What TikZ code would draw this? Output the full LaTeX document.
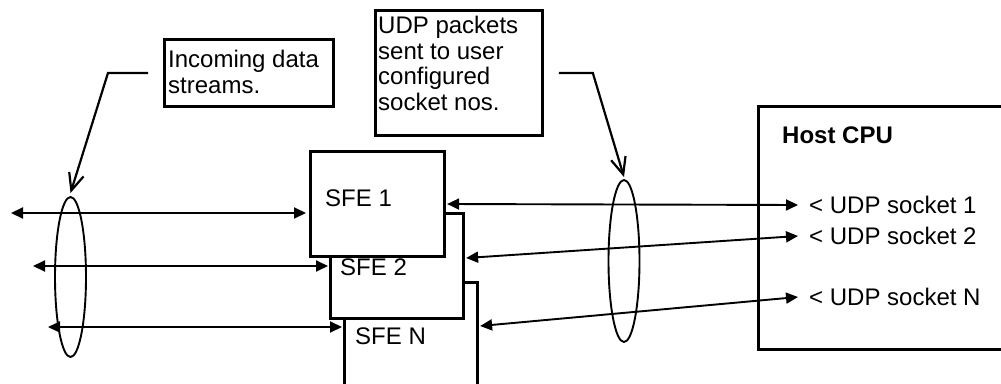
\documentclass[tikz,border=0pt]{standalone}
\usepackage{fontspec}
\setmainfont{Liberation Sans}
\usetikzlibrary{arrows.meta,shapes.geometric}
\newcommand{\figfont}{\fontsize{24}{25.5}\selectfont}

\begin{document}
\begin{tikzpicture}[x=1pt,y=-1pt,
  >={Triangle[length=12pt,width=11pt]},
  every node/.style={font=\figfont,inner sep=0pt},
  sfebox/.style={draw,line width=2.6pt,fill=white,anchor=north west,minimum width=134pt,minimum height=105pt},
  notebox/.style={draw,line width=2.8pt,anchor=north west},
  ring/.style={draw,ellipse,line width=1.9pt,minimum width=31pt,minimum height=160pt},
  link/.style={line width=1.9pt,<->},
  leader/.style={line width=2.2pt,-{Straight Barb[length=17pt,width=15pt]}}]
  \useasboundingbox (0,0) rectangle (1001,383);
  \node[notebox,minimum width=169pt,minimum height=67pt] (inbox) at (163,38) {};
  \node[anchor=north west,align=left] (intext) at (168,50) {Incoming data\\streams.};
  \node[notebox,minimum width=167pt,minimum height=125pt] (udpbox) at (374,9) {};
  \node[anchor=north west,align=left] (udptext) at (378,16) {UDP packets\\sent to user\\configured\\socket nos.};
  \node[notebox,minimum width=290pt,minimum height=243pt] (host) at (757,105) {};
  \node[anchor=base west,font=\figfont\bfseries] (hostlbl) at (782,143) {Host CPU};
  \node[sfebox,minimum width=133pt,minimum height=130pt] (sfen) at (343,281) {};
  \node[sfebox,minimum width=133pt] (sfe2) at (329,212) {};
  \node[sfebox] (sfe1) at (309,150) {};
  \node[anchor=base west] (sfe1lbl) at (325,206) {SFE 1};
  \node[anchor=base west] (sfe2lbl) at (340,275) {SFE 2};
  \node[anchor=base west] (sfenlbl) at (355,344) {SFE N};
  \node[ring] (lring) at (70.5,277) {};
  \node[ring,minimum height=162pt] (rring) at (624,261) {};
  \node[anchor=west] (sock1) at (809,205) {< UDP socket 1};
  \node[anchor=west] (sock2) at (809,236) {< UDP socket 2};
  \node[anchor=west] (sockn) at (809,297) {< UDP socket N};
  \coordinate (src1) at (11,213);
  \coordinate (src2) at (33,266);
  \coordinate (srcn) at (48,327);
  \draw[link] (src1) -- ([xshift=-3pt,yshift=-63pt]sfe1.north west);
  \draw[link] (src2) -- ([xshift=-1pt,yshift=-54pt]sfe2.north west);
  \draw[link] (srcn) -- ([xshift=-1pt,yshift=-46pt]sfen.north west);
  \draw[link] ([xshift=1.5pt,yshift=-54pt]sfe1.north east) -- ([xshift=-11pt]sock1.west);
  \draw[link] ([xshift=1.5pt,yshift=-46pt]sfe2.north east) -- ([xshift=-11pt]sock2.west);
  \draw[link] ([xshift=1.5pt,yshift=-45pt]sfen.north east) -- ([xshift=-11pt]sockn.west);
  \draw[leader] ([xshift=-15pt]inbox.west) -- ++(-40,0) -- ([yshift=3pt]lring.north);
  \draw[leader] ([xshift=15pt]udpbox.east) -- ++(34,0) -- ([yshift=2pt]rring.north);
\end{tikzpicture}
\end{document}
